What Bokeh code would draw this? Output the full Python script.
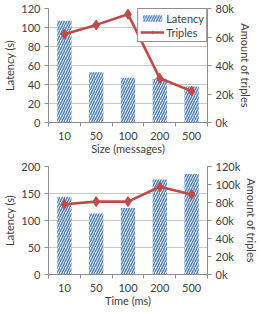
from bokeh.plotting import figure
from bokeh.layouts import column
from bokeh.models import Range1d, LinearAxis, FixedTicker, PrintfTickFormatter
from bokeh.embed import file_html
from bokeh.resources import INLINE

categories = ["10", "50", "100", "200", "500"]
size_latency = [107, 53, 47, 46, 38]
size_triples_k = [62, 68.5, 76, 31, 22]
time_latency = [144, 113, 123, 176, 186]
time_triples_k = [78, 81, 81, 97.5, 89]

TEXT = "#404040"
AXIS = "#8c8c8c"
GRID = "#c8c8c8"
RED = "#be4b48"
FONT = "Lato"
FS = "11px"


def make(latency, triples, lat_max, lat_step, tri_max, xlabel, legend, top_b, bot_b):
    n = len(categories)
    xs = [i + 0.5 for i in range(n)]
    p = figure(width=261, height=157, output_backend="svg", toolbar_location=None,
               x_range=Range1d(0, n), y_range=Range1d(0, lat_max),
               min_border_left=40, min_border_right=50,
               min_border_top=top_b, min_border_bottom=bot_b)
    p.outline_line_color = None
    p.background_fill_color = "white"
    p.border_fill_color = "white"
    p.extra_y_ranges = {"tri": Range1d(0, tri_max)}

    lat_ticks = list(range(0, lat_max + 1, lat_step))
    # x axis
    xa = p.xaxis[0]
    xa.ticker = FixedTicker(ticks=xs, minor_ticks=list(range(n + 1)))
    xa.major_label_overrides = {x: c for x, c in zip(xs, categories)}
    xa.major_tick_line_color = None
    xa.major_tick_out = 4
    xa.minor_tick_out = 4
    xa.minor_tick_in = 0
    xa.minor_tick_line_color = AXIS
    xa.axis_line_color = AXIS
    xa.axis_label = xlabel
    xa.major_label_standoff = 5
    xa.axis_label_standoff = -1
    # left axis
    ya = p.yaxis[0]
    ya.ticker = FixedTicker(ticks=lat_ticks)
    ya.axis_label = "Latency (s)"
    ya.axis_label_standoff = 2
    ya.major_label_standoff = 4
    ya.major_tick_out = 4
    ya.major_tick_in = 0
    ya.minor_tick_line_color = None
    ya.major_tick_line_color = AXIS
    ya.axis_line_color = AXIS
    # right axis
    ra = LinearAxis(y_range_name="tri", axis_label="Amount of triples",
                    ticker=FixedTicker(ticks=list(range(0, tri_max + 1, 20))),
                    formatter=PrintfTickFormatter(format="%dk"))
    ra.axis_label_standoff = 2
    ra.major_label_standoff = 4
    ra.major_tick_out = 4
    ra.major_tick_in = 0
    ra.minor_tick_line_color = None
    ra.major_tick_line_color = AXIS
    ra.axis_line_color = AXIS
    p.add_layout(ra, "right")

    for ax in (xa, ya, ra):
        ax.major_label_text_font = FONT
        ax.major_label_text_font_size = FS
        ax.major_label_text_color = TEXT
        ax.axis_label_text_font = FONT
        ax.axis_label_text_font_size = FS
        ax.axis_label_text_font_style = "normal"
        ax.axis_label_text_color = TEXT

    p.xgrid.visible = False
    p.ygrid.ticker = FixedTicker(ticks=lat_ticks)
    p.ygrid.grid_line_color = GRID

    kw = {"legend_label": "Latency"} if legend else {}
    p.vbar(x=xs, top=latency, width=0.45, fill_color="white", line_color=None,
           hatch_pattern="right_diagonal_line", hatch_color="#4f81bd",
           hatch_scale=5, hatch_weight=1.5, **kw)
    kw = {"legend_label": "Triples"} if legend else {}
    p.line(xs, triples, y_range_name="tri", line_color=RED, line_width=2.6, **kw)
    p.scatter(xs, triples, y_range_name="tri", marker="diamond", size=10,
              fill_color=RED, line_color=RED, **kw)

    if legend:
        lg = p.legend[0]
        lg.location = "top_right"
        lg.margin = 0
        lg.padding = 2
        lg.spacing = 0
        lg.label_text_font = FONT
        lg.label_text_font_size = FS
        lg.label_text_color = TEXT
        lg.border_line_color = "#222222"
        lg.background_fill_alpha = 1.0
        lg.glyph_width = 24
        lg.glyph_height = 8
        lg.label_standoff = 2
        lg.label_height = 14
    return p


p1 = make(size_latency, size_triples_k, 120, 20, 80, "Size (messages)", True, 8, 35)
p2 = make(time_latency, time_triples_k, 200, 50, 120, "Time (ms)", False, 9, 40)

layout = column(p1, p2, spacing=0)
open("out.html", "w").write(file_html(layout, INLINE))
